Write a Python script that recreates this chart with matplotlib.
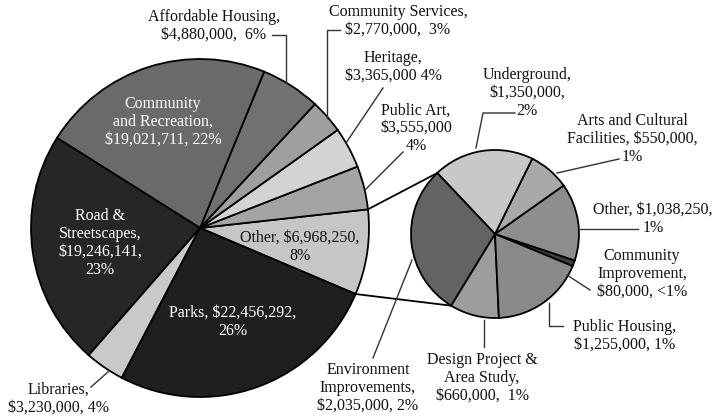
import matplotlib.pyplot as plt

plt.rcParams['font.family'] = ['Liberation Serif', 'DejaVu Serif']

# main pie, going round from the "Other" wedge
main_values = [6968250, 3555000, 3365000, 2770000, 4880000,
               19021711, 19246141, 3230000, 22456292]
main_pcts = ["8%", "4%", "4%", "3%", "6%", "22%", "23%", "4%", "26%"]
main_labels = [
    "Other, {v},\n{p}",
    "Public Art,\n{v}\n{p}",
    "Heritage,\n{v} {p}",
    "Community Services,\n{v},  {p}",
    "Affordable Housing,\n{v},  {p}",
    "Community\nand Recreation,\n{v}, {p}",
    "Road &\nStreetscapes,\n{v},\n{p}",
    "Libraries,\n{v}, {p}",
    "Parks, {v},\n{p}",
]
main_colors = ['#c6c6c6', '#a4a4a4', '#d3d3d3', '#9f9f9f', '#717171',
               '#6a6a6a', '#262626', '#c9c9c9', '#1f1f1f']
main_text_colors = ['#111111', '#111111', '#111111', '#111111', '#111111',
                    'white', 'white', '#111111', 'white']

# breakdown of "Other"
other_values = [80000, 1038250, 550000, 1350000, 2035000, 660000, 1255000]
other_pcts = ["<1%", "1%", "1%", "2%", "2%", "1%", "1%"]
other_labels = [
    "Community\nImprovement,\n{v}, {p}",
    "Other, {v},\n{p}",
    "Arts and Cultural\nFacilities, {v},\n{p}",
    "Underground,\n{v},\n{p}",
    "Environment\nImprovements,\n{v}, {p}",
    "Design Project &\nArea Study,\n{v},  {p}",
    "Public Housing,\n{v}, {p}",
]
other_colors = ['#3f3f3f', '#8e8e8e', '#a9a9a9', '#c8c8c8',
                '#636363', '#9d9d9d', '#8a8a8a']

# label anchor points and leader lines (pixels, y down)
main_pos = [(300, 247), (416, 128), (393, 67), (398, 21), (214, 26),
            (163, 122), (100, 243), (58, 399), (233, 322)]
main_leaders = [None,
                [(403, 152), (365, 190)],
                [(383, 88), (346, 143)],
                [(340, 30), (327, 30), (327, 118)],
                [(272, 35), (286, 35), (286, 82)],
                None, None,
                [(91, 387), (108, 372)],
                None]
other_pos = [(642, 274), (653, 219), (632, 139), (527, 93),
             (368, 388), (482, 378), (625, 336)]
other_leaders = [[(590, 290), (567, 275)],
                 [(580, 229), (638, 229)],
                 [(619, 159), (557, 173)],
                 [(515, 113), (483, 113), (476, 148)],
                 [(373, 358), (412, 260)],
                 [(484, 320), (484, 347)],
                 [(563, 326), (549, 326), (549, 303)]]

fig = plt.figure(figsize=(7.18, 4.2), dpi=100)
ax = fig.add_axes([0, 0, 1, 1])

edge = dict(edgecolor='black', linewidth=1.3)
# y axis is flipped below, so clockwise here reads counter-clockwise on screen
main_wedges, _ = ax.pie(main_values, colors=main_colors, center=(200, 228),
                        radius=169, startangle=23, counterclock=False,
                        wedgeprops=edge)
sub_wedges, _ = ax.pie(other_values, colors=other_colors, center=(495, 234),
                       radius=84, startangle=22.5, counterclock=False,
                       wedgeprops=edge)

ax.set_xlim(0, 718)
ax.set_ylim(420, 0)
ax.set_aspect('equal')
ax.axis('off')


def edge_point(w, theta):
    import math
    cx, cy = w.center
    t = math.radians(theta)
    return cx + w.r * math.cos(t), cy + w.r * math.sin(t)


# connector lines from the "Other" wedge to the breakdown pie
src = main_wedges[0]
dst = sub_wedges[4]
for a, b in [(src.theta1, dst.theta2), (src.theta2, dst.theta1)]:
    p = edge_point(src, a)
    q = edge_point(dst, b)
    ax.plot([p[0], q[0]], [p[1], q[1]], color='black', lw=1.3, zorder=0.5)


def put_labels(values, pcts, labels, pos, leaders, colors):
    for i, v in enumerate(values):
        txt = labels[i].format(v="${:,}".format(v), p=pcts[i])
        ax.text(pos[i][0], pos[i][1], txt, ha='center', va='center',
                fontsize=11.5, color=colors[i], linespacing=1.15)
        if leaders[i]:
            xs = [pt[0] for pt in leaders[i]]
            ys = [pt[1] for pt in leaders[i]]
            ax.plot(xs, ys, color='#333333', lw=1.0)


put_labels(main_values, main_pcts, main_labels, main_pos, main_leaders,
           main_text_colors)
put_labels(other_values, other_pcts, other_labels, other_pos, other_leaders,
           ['#111111'] * len(other_values))

fig.savefig('out.png', dpi=100)
